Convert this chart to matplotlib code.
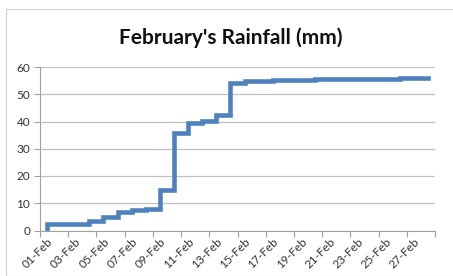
import matplotlib.pyplot as plt
import numpy as np
from matplotlib.patches import Rectangle

# cumulative rainfall (mm), one value per day of February
days = list(range(1, 29))
total_mm = [2.4, 2.4, 2.4, 3.4, 5.0, 6.8, 7.4, 8.0, 15.0, 35.7,
            39.3, 40.3, 42.4, 54.2, 54.8, 54.8, 55.3, 55.3, 55.3, 55.7,
            55.7, 55.7, 55.7, 55.7, 55.7, 56.1, 56.1, 56.1]
day_labels = ["%02d-Feb" % d for d in days]
yticks = [0, 10, 20, 30, 40, 50, 60]

plt.rcParams['font.family'] = ['Lato', 'DejaVu Sans']

fig = plt.figure(figsize=(4.53, 2.76), dpi=100)
fig.patches.append(Rectangle((6 / 453, 0), 1, 1 - 9 / 276, transform=fig.transFigure,
                             fill=False, edgecolor="#d0d0d0", linewidth=0.8))
ax = fig.add_axes([40 / 453, 1 - 230.5 / 276, 395 / 453, 163.5 / 276])

# line starts from zero on the first day
x = [1] + days
y = [0] + total_mm
ax.plot(x, y, drawstyle="steps-post", color="#4f81bd", linewidth=3.3, solid_joinstyle="miter")

ax.set_xlim(0.5, 28.5)
ax.set_ylim(0, 60)
ax.set_yticks(yticks)
ax.grid(axis="y", color="#c0c0c0", linewidth=0.9)
ax.set_axisbelow(True)

ax.set_xticks(np.arange(0.5, 29, 2))
ax.set_xticklabels([])
ax.set_xticks(days[::2], minor=True)
ax.set_xticklabels(day_labels[::2], minor=True, rotation=45, ha="right",
                   rotation_mode="anchor", fontsize=8.5, color="#333333")
ax.tick_params(axis="x", which="minor", length=0, pad=4)
ax.tick_params(axis="x", which="major", length=4, color="#a0a0a0", direction="out")
ax.tick_params(axis="y", length=4, color="#a0a0a0", labelsize=8.5, labelcolor="#333333", pad=3)

for s in ["top", "right"]:
    ax.spines[s].set_visible(False)
ax.spines["left"].set_color("#a0a0a0")
ax.spines["bottom"].set_color("#a0a0a0")

fig.text(231 / 453, 1 - 38 / 276, "February's Rainfall (mm)", ha="center", va="center",
         fontsize=15, fontweight="bold", color="#111111")

plt.savefig("out.png", dpi=100)
